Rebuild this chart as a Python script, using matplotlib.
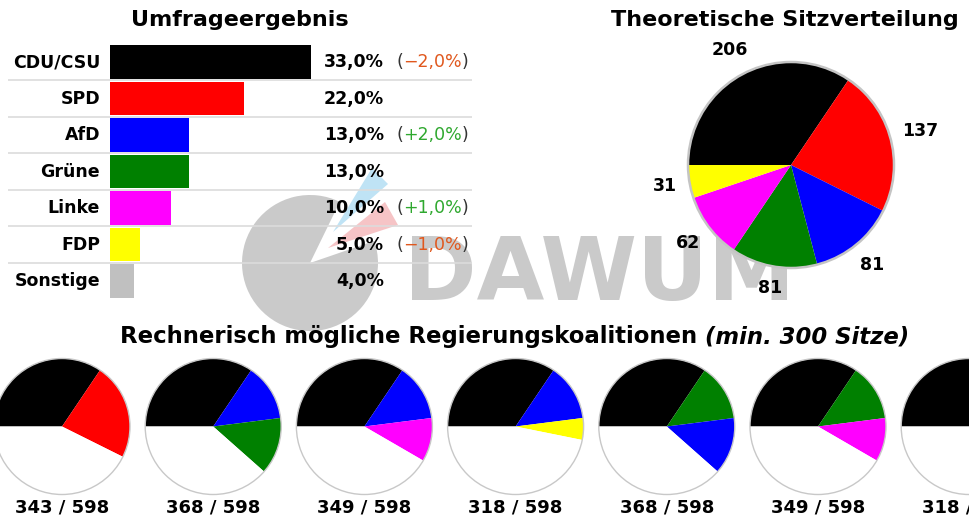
import math
import matplotlib
matplotlib.use("Agg")
import matplotlib.pyplot as plt
from matplotlib.patches import Wedge, Polygon, Circle
import matplotlib.transforms as mtransforms

plt.rcParams['font.family'] = ['DejaVu Sans']

W, H = 970, 515

# ---------------- data ----------------
parties = ["CDU/CSU", "SPD", "AfD", "Grüne", "Linke", "FDP", "Sonstige"]
shares = [33.0, 22.0, 13.0, 13.0, 10.0, 5.0, 4.0]
changes = [-2.0, None, 2.0, None, 1.0, -1.0, None]
party_colors = ["#000000", "#ff0000", "#0000ff", "#008000", "#ff00ff", "#ffff00", "#c0c0c0"]

seat_parties = ["CDU/CSU", "SPD", "AfD", "Grüne", "Linke", "FDP"]
seats = [206, 137, 81, 81, 62, 31]

coalitions = [
    ["CDU/CSU", "SPD"],
    ["CDU/CSU", "AfD", "Grüne"],
    ["CDU/CSU", "AfD", "Linke"],
    ["CDU/CSU", "AfD", "FDP"],
    ["CDU/CSU", "Grüne", "AfD"],
    ["CDU/CSU", "Grüne", "Linke"],
    ["CDU/CSU", "Grüne", "FDP"],
]

title_left = "Umfrageergebnis"
title_right = "Theoretische Sitzverteilung"
title_bottom_main = "Rechnerisch mögliche Regierungskoalitionen "
title_bottom_note = "(min. 300 Sitze)"

col_of = dict(zip(parties, party_colors))
seat_of = dict(zip(seat_parties, seats))
total_seats = sum(seats)

NEG_COL = "#e0581e"
POS_COL = "#2fa82f"
PAREN_COL = "#333333"
GRID_COL = "#dcdcdc"
WM_COL = "#cacaca"

fig = plt.figure(figsize=(W / 100, H / 100), dpi=100)
renderer = fig.canvas.get_renderer()


def fax(x, y, w, h, **kw):
    return fig.add_axes([x / W, 1 - (y + h) / H, w / W, h / H], **kw)


def fx(x):
    return x / W


def fy(y):
    return 1 - y / H


# ---------------- watermark (background) ----------------
bg = fax(0, 0, W, H)
bg.set_xlim(0, W)
bg.set_ylim(0, H)
bg.axis("off")
bg.set_zorder(-10)
cx0, cy0 = 310, H - 263
bg.add_patch(Wedge((cx0, cy0), 68, 64, 379, facecolor=WM_COL, edgecolor="none"))
bg.add_patch(Polygon([(333, H - 232), (388, H - 184), (372, H - 168)],
                     closed=True, facecolor="#bfe3f5", edgecolor="none"))
bg.add_patch(Polygon([(328, H - 248), (385, H - 202), (398, H - 225)],
                     closed=True, facecolor="#f6c4c6", edgecolor="none"))
bg.text(404, H - 300, "DAWUM", fontsize=63, fontweight="bold", color=WM_COL,
        ha="left", va="baseline")

# ---------------- bar chart ----------------
px_per_pct = 6.09
bar_left_px = 110
axb = fax(8, 43.75, 464, 255.5)
axb.patch.set_alpha(0)
axb.set_xlim(-(bar_left_px - 8) / px_per_pct, (472 - bar_left_px) / px_per_pct)
axb.set_ylim(len(parties) - 0.5, -0.5)
axb.axis("off")
ypos = list(range(len(parties)))
axb.barh(ypos, shares, height=0.93, color=party_colors, zorder=2)
axb.hlines([i + 0.5 for i in range(len(parties) - 1)],
           axb.get_xlim()[0], axb.get_xlim()[1], color=GRID_COL, lw=1.2, zorder=1)

lab_x = -10 / px_per_pct
val_x = (384 - bar_left_px) / px_per_pct
chg_x = (396 - bar_left_px) / px_per_pct
FS = 12.5


def fmt(v):
    return f"{abs(v):.1f}".replace(".", ",") + "%"


for i, (p, s, c) in enumerate(zip(parties, shares, changes)):
    axb.text(lab_x, i, p, ha="right", va="center", fontsize=FS, fontweight="bold", zorder=3)
    axb.text(val_x, i, fmt(s), ha="right", va="center", fontsize=FS, fontweight="bold", zorder=3)
    if c is not None:
        inner = ("+" if c > 0 else "\u2212") + fmt(c)
        col = POS_COL if c > 0 else NEG_COL
        t1 = axb.text(chg_x, i, "(", ha="left", va="center", fontsize=FS, color=PAREN_COL, zorder=3)
        w1 = t1.get_window_extent(renderer).width
        tmp = axb.text(chg_x, i, "(" + inner, ha="left", va="center", fontsize=FS)
        w2 = tmp.get_window_extent(renderer).width
        tmp.remove()
        tr1 = mtransforms.offset_copy(axb.transData, fig=fig, x=w1, y=0, units="dots")
        axb.text(chg_x, i, inner, ha="left", va="center", fontsize=FS, color=col,
                 transform=tr1, zorder=3)
        tr2 = mtransforms.offset_copy(axb.transData, fig=fig, x=w2, y=0, units="dots")
        axb.text(chg_x, i, ")", ha="left", va="center", fontsize=FS, color=PAREN_COL,
                 transform=tr2, zorder=3)

fig.text(fx(240), fy(20), title_left, ha="center", va="center", fontsize=16, fontweight="bold")

# ---------------- seat pie ----------------
R = 103
pcx, pcy = 791, 165
LIM = 1.02
axp = fax(pcx - R * LIM, pcy - R * LIM, 2 * R * LIM, 2 * R * LIM)
wedges, texts = axp.pie(seats, colors=[col_of[p] for p in seat_parties], startangle=180,
                        counterclock=False, labels=[str(s) for s in seats],
                        labeldistance=1.27,
                        wedgeprops=dict(edgecolor="none", linewidth=0),
                        textprops=dict(fontsize=12.5, fontweight="bold"))
axp.add_patch(Circle((0, 0), 1.0, fill=False, edgecolor="#c4c4c4", lw=1.8))
axp.set_xlim(-LIM, LIM)
axp.set_ylim(-LIM, LIM)
axp.set_aspect("equal")
# place labels outside, keeping a constant gap between pie edge and label box
gap_px = 11
for wdg, t in zip(wedges, texts):
    t.set_ha("center")
    t.set_va("center")
    mid = math.radians((wdg.theta1 + wdg.theta2) / 2)
    ux, uy = math.cos(mid), math.sin(mid)
    bb = t.get_window_extent(renderer)
    half = abs(ux) * bb.width / 2 + abs(uy) * bb.height / 2
    d = 1.0 + (gap_px + half) / R
    t.set_position((d * ux, d * uy))

fig.text(fx(785), fy(20), title_right, ha="center", va="center", fontsize=16, fontweight="bold")

# ---------------- coalition title ----------------
tb1 = fig.text(0, fy(337), title_bottom_main, ha="left", va="center", fontsize=16.4, fontweight="bold")
tb2 = fig.text(0, fy(337), title_bottom_note, ha="left", va="center", fontsize=16.4,
               fontweight="bold", fontstyle="italic")
w_a = tb1.get_window_extent(renderer).width
w_b = tb2.get_window_extent(renderer).width
start = 515 - (w_a + w_b) / 2
tb1.set_x(fx(start))
tb2.set_x(fx(start + w_a))

# ---------------- coalition pies ----------------
r = 68
pitch = 151.2
for k, coal in enumerate(coalitions):
    cx = 62 + pitch * k
    cy = 426.5
    vals = [seat_of[p] for p in coal]
    rest = total_seats - sum(vals)
    ax = fax(cx - r * LIM, cy - r * LIM, 2 * r * LIM, 2 * r * LIM)
    ax.pie(vals + [rest], colors=[col_of[p] for p in coal] + ["white"], startangle=180,
           counterclock=False, wedgeprops=dict(edgecolor="none", linewidth=0))
    ax.add_patch(Circle((0, 0), 1.0, fill=False, edgecolor="#c8c8c8", lw=1.0))
    ax.set_xlim(-LIM, LIM)
    ax.set_ylim(-LIM, LIM)
    ax.set_aspect("equal")
    fig.text(fx(cx), fy(507), f"{sum(vals)} / {total_seats}", ha="center", va="center",
             fontsize=13, fontweight="bold")

fig.savefig("out.png", dpi=100)
